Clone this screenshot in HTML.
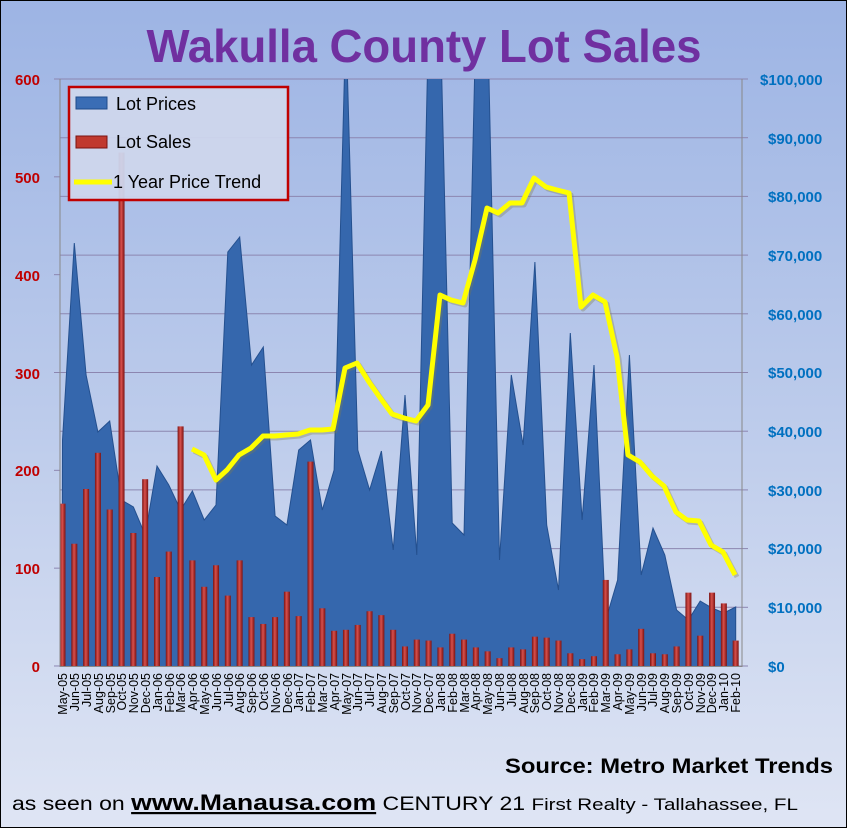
<!DOCTYPE html>
<html><head><meta charset="utf-8"><style>
html,body{margin:0;padding:0;background:#fff}
svg{display:block;font-family:"Liberation Sans",sans-serif}
</style></head><body>
<svg id="s" width="847" height="828" viewBox="0 0 847 828" xmlns="http://www.w3.org/2000/svg">
<defs>
<linearGradient id="bg" x1="0" y1="0" x2="0" y2="1">
<stop offset="0" stop-color="#9db4e4"/><stop offset="0.5" stop-color="#bccbeb"/><stop offset="1" stop-color="#dfe5f4"/>
</linearGradient>
<linearGradient id="bar" x1="0" y1="0" x2="1" y2="0">
<stop offset="0" stop-color="#7a1212"/><stop offset="0.45" stop-color="#d8504c"/><stop offset="1" stop-color="#7a1212"/>
</linearGradient>
<clipPath id="pc"><rect x="60" y="79" width="682" height="588"/></clipPath>
</defs>
<rect x="0" y="0" width="847" height="828" fill="url(#bg)" stroke="#000" stroke-width="2"/>
<text x="424" y="62" text-anchor="middle" font-size="46" font-weight="bold" fill="#7030a0" textLength="555" lengthAdjust="spacingAndGlyphs">Wakulla County Lot Sales</text>
<g id="grid" stroke="#8c86b0" stroke-width="1"></g>
<g id="area" clip-path="url(#pc)"></g>
<g id="bars"></g>
<polyline fill="none" stroke="#7d7a50" stroke-opacity="0.35" stroke-width="5" stroke-linejoin="round" transform="translate(2,2)" points="192,449 204,455 216,480 227,470 239,455 251,448 263,436 275,436 286,435 298,434 310,430 322,430 333,429 345,368 357,363 369,382 381,399 392,414 404,418 416,421 428,405 440,295 451,300 463,303 475,260 487,208 498,213 510,203 522,203 534,178 546,187 557,190 569,193 581,307 593,295 605,302 617,357 628,455 640,462 652,476 664,486 676,512 687,520 699,521 711,545 723,552 735,575"/>
<polyline fill="none" stroke="#ffff00" stroke-width="5" stroke-linejoin="round" points="192,449 204,455 216,480 227,470 239,455 251,448 263,436 275,436 286,435 298,434 310,430 322,430 333,429 345,368 357,363 369,382 381,399 392,414 404,418 416,421 428,405 440,295 451,300 463,303 475,260 487,208 498,213 510,203 522,203 534,178 546,187 557,190 569,193 581,307 593,295 605,302 617,357 628,455 640,462 652,476 664,486 676,512 687,520 699,521 711,545 723,552 735,575"/>
<line x1="60" y1="79" x2="60" y2="667" stroke="#888" stroke-width="1"/>
<line x1="742" y1="79" x2="742" y2="667" stroke="#888" stroke-width="1"/>
<line x1="60" y1="666.5" x2="742" y2="666.5" stroke="#888" stroke-width="1"/>
<g font-size="15" font-weight="bold" fill="#c00000" text-anchor="end">
<text x="40" y="85">600</text><text x="40" y="183">500</text><text x="40" y="281">400</text><text x="40" y="379">300</text><text x="40" y="476">200</text><text x="40" y="574">100</text><text x="40" y="672">0</text>
</g>
<g font-size="15" font-weight="bold" fill="#0070c0">
<text x="760" y="85">$100,000</text><text x="768" y="144">$90,000</text><text x="768" y="202">$80,000</text><text x="768" y="261">$70,000</text><text x="768" y="320">$60,000</text><text x="768" y="378">$50,000</text><text x="768" y="437">$40,000</text><text x="768" y="496">$30,000</text><text x="768" y="554">$20,000</text><text x="768" y="613">$10,000</text><text x="768" y="672">$0</text>
</g>
<g id="xl" font-size="12.5" fill="#000" text-anchor="end">
<text transform="translate(67,673) rotate(-90)">May-05</text>
<text transform="translate(79,673) rotate(-90)">Jun-05</text>
<text transform="translate(91,673) rotate(-90)">Jul-05</text>
<text transform="translate(103,673) rotate(-90)">Aug-05</text>
<text transform="translate(115,673) rotate(-90)">Sep-05</text>
<text transform="translate(126,673) rotate(-90)">Oct-05</text>
<text transform="translate(138,673) rotate(-90)">Nov-05</text>
<text transform="translate(150,673) rotate(-90)">Dec-05</text>
<text transform="translate(162,673) rotate(-90)">Jan-06</text>
<text transform="translate(174,673) rotate(-90)">Feb-06</text>
<text transform="translate(185,673) rotate(-90)">Mar-06</text>
<text transform="translate(197,673) rotate(-90)">Apr-06</text>
<text transform="translate(209,673) rotate(-90)">May-06</text>
<text transform="translate(221,673) rotate(-90)">Jun-06</text>
<text transform="translate(233,673) rotate(-90)">Jul-06</text>
<text transform="translate(244,673) rotate(-90)">Aug-06</text>
<text transform="translate(256,673) rotate(-90)">Sep-06</text>
<text transform="translate(268,673) rotate(-90)">Oct-06</text>
<text transform="translate(280,673) rotate(-90)">Nov-06</text>
<text transform="translate(292,673) rotate(-90)">Dec-06</text>
<text transform="translate(303,673) rotate(-90)">Jan-07</text>
<text transform="translate(315,673) rotate(-90)">Feb-07</text>
<text transform="translate(327,673) rotate(-90)">Mar-07</text>
<text transform="translate(339,673) rotate(-90)">Apr-07</text>
<text transform="translate(351,673) rotate(-90)">May-07</text>
<text transform="translate(362,673) rotate(-90)">Jun-07</text>
<text transform="translate(374,673) rotate(-90)">Jul-07</text>
<text transform="translate(386,673) rotate(-90)">Aug-07</text>
<text transform="translate(398,673) rotate(-90)">Sep-07</text>
<text transform="translate(410,673) rotate(-90)">Oct-07</text>
<text transform="translate(421,673) rotate(-90)">Nov-07</text>
<text transform="translate(433,673) rotate(-90)">Dec-07</text>
<text transform="translate(445,673) rotate(-90)">Jan-08</text>
<text transform="translate(457,673) rotate(-90)">Feb-08</text>
<text transform="translate(469,673) rotate(-90)">Mar-08</text>
<text transform="translate(480,673) rotate(-90)">Apr-08</text>
<text transform="translate(492,673) rotate(-90)">May-08</text>
<text transform="translate(504,673) rotate(-90)">Jun-08</text>
<text transform="translate(516,673) rotate(-90)">Jul-08</text>
<text transform="translate(528,673) rotate(-90)">Aug-08</text>
<text transform="translate(539,673) rotate(-90)">Sep-08</text>
<text transform="translate(551,673) rotate(-90)">Oct-08</text>
<text transform="translate(563,673) rotate(-90)">Nov-08</text>
<text transform="translate(575,673) rotate(-90)">Dec-08</text>
<text transform="translate(587,673) rotate(-90)">Jan-09</text>
<text transform="translate(598,673) rotate(-90)">Feb-09</text>
<text transform="translate(610,673) rotate(-90)">Mar-09</text>
<text transform="translate(622,673) rotate(-90)">Apr-09</text>
<text transform="translate(634,673) rotate(-90)">May-09</text>
<text transform="translate(646,673) rotate(-90)">Jun-09</text>
<text transform="translate(657,673) rotate(-90)">Jul-09</text>
<text transform="translate(669,673) rotate(-90)">Aug-09</text>
<text transform="translate(681,673) rotate(-90)">Sep-09</text>
<text transform="translate(693,673) rotate(-90)">Oct-09</text>
<text transform="translate(705,673) rotate(-90)">Nov-09</text>
<text transform="translate(716,673) rotate(-90)">Dec-09</text>
<text transform="translate(728,673) rotate(-90)">Jan-10</text>
<text transform="translate(740,673) rotate(-90)">Feb-10</text>
</g>
<rect x="69" y="87" width="219" height="113" fill="#cdd6ec" fill-opacity="0.95" stroke="#c00000" stroke-width="2.5"/>
<rect x="76" y="97" width="31" height="12" fill="#3a6db5" stroke="#1f4a8a"/>
<rect x="76" y="136" width="31" height="12" fill="#c0392f" stroke="#7a1212"/>
<line x1="74" y1="182" x2="112" y2="182" stroke="#ffff00" stroke-width="5"/>
<g font-size="18" fill="#000">
<text x="116" y="110">Lot Prices</text>
<text x="116" y="148">Lot Sales</text>
<text x="113" y="188">1 Year Price Trend</text>
</g>
<text x="833" y="773" text-anchor="end" font-size="21" font-weight="bold" fill="#000" textLength="328" lengthAdjust="spacingAndGlyphs">Source: Metro Market Trends</text>
<text x="12" y="810" font-size="19" fill="#000" textLength="786" lengthAdjust="spacingAndGlyphs">as seen on <tspan font-weight="bold" font-size="22" text-decoration="underline">www.Manausa.com</tspan>  CENTURY 21 <tspan font-size="17">First Realty - Tallahassee,  FL</tspan></text>
</svg>
<script>
var NS="http://www.w3.org/2000/svg";
function el(t,a,p){var e=document.createElementNS(NS,t);for(var k in a)e.setAttribute(k,a[k]);document.getElementById(p).appendChild(e);return e;}
for(var i=0;i<=10;i++){var y=79+i*58.7;el("line",{x1:60,y1:y,x2:742,y2:y},"grid");}
for(var i=0;i<=6;i++){var y=79+i*97.83;el("line",{x1:54,y1:y,x2:60,y2:y},"grid");}
for(var i=0;i<=10;i++){var y=79+i*58.7;el("line",{x1:742,y1:y,x2:748,y2:y},"grid");}
var X=function(i){return 62.5+i*11.81;};
var A=[440,243,375,432,421,500,507,535,466,485,510,491,520,505,252,237,365,347,516,525,450,440,510,470,20,450,490,451,550,395,555,20,20,523,535,20,20,560,375,445,262,525,590,333,520,365,620,580,355,575,528,555,610,620,601,608,613,607];
var pts="62,667 ";for(var i=0;i<A.length;i++)pts+=X(i).toFixed(1)+","+A[i]+" ";pts+=X(57).toFixed(1)+",667";
el("polygon",{points:pts,fill:"#3567ad",stroke:"#24508f","stroke-width":1},"area");
var B=[166,125,181,218,160,525,136,191,91,117,245,108,81,103,72,108,50,43,50,76,51,209,59,36,37,42,56,52,37,20,27,26,19,33,27,19,15,8,19,17,30,29,26,13,7,10,88,12,17,38,13,12,20,75,31,75,64,26];
for(var i=0;i<B.length;i++){var h=B[i]*0.978;el("rect",{x:X(i)-3,y:666-h,width:6,height:h,fill:"url(#bar)"},"bars");}
</script>
</body></html>
